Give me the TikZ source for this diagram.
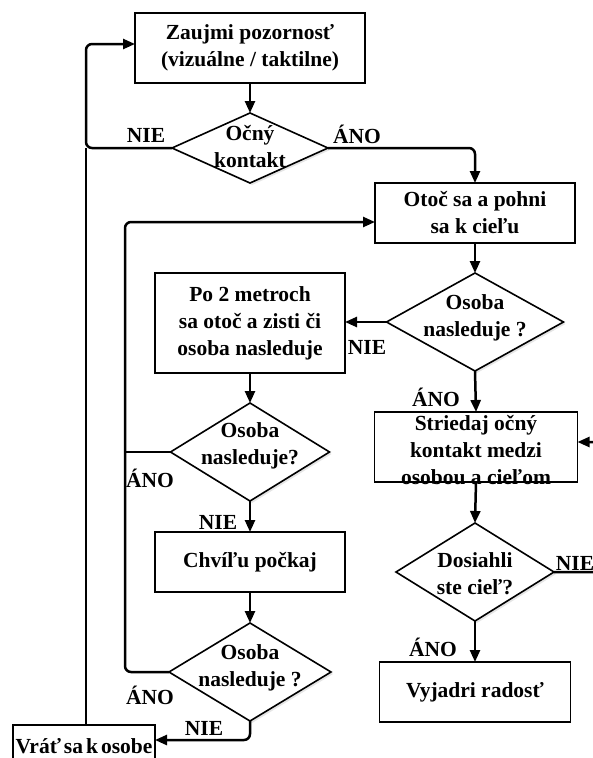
\documentclass[tikz,border=0pt]{standalone}
\usepackage{fontspec}
\setmainfont{Liberation Serif}
\usetikzlibrary{arrows.meta,shapes.geometric,shadows}
\begin{document}
\begin{tikzpicture}[x=1pt,y=-1pt,
  every node/.style={font=\fontsize{21.5}{27}\selectfont\bfseries},
  box/.style={draw, line width=1.6pt, rectangle, inner sep=0pt, outer sep=0pt, align=center},
  dia/.style={draw, line width=1.6pt, diamond, inner sep=0pt, outer sep=0pt, fill=white,
    drop shadow={opacity=0.2, shadow xshift=2pt, shadow yshift=-2pt}},
  txt/.style={align=center, inner sep=0pt},
  lbl/.style={inner sep=0pt},
  conn/.style={line width=2.5pt, rounded corners=6pt},
  arr/.style={conn, -{Triangle[length=12pt,width=10pt]}}
]
\clip (0,0) rectangle (593,758);
\fill[white] (0,0) rectangle (593,758);

% boxes and diamonds
\node[box, minimum width=230pt, minimum height=70pt] (b1) at (250,48) {Zaujmi pozornosť\\(vizuálne / taktilne)};
\node[dia, minimum width=156pt, minimum height=70pt] (d1) at (250,148) {};
\node[txt] (t1) at (250,147) {Očný\\kontakt};

\node[box, minimum width=200pt, minimum height=60pt] (b2) at (475,213) {Otoč sa a pohni\\sa k cieľu};
\node[dia, minimum width=177pt, minimum height=98pt] (d2) at (475,322) {};
\node[txt] (t2) at (475,318) {Osoba\\nasleduje ?};

\node[box, minimum width=190pt, minimum height=100pt] (b3) at (250,323) {Po 2 metroch\\sa otoč a zisti či\\osoba nasleduje};
\node[dia, minimum width=159pt, minimum height=98pt] (d3) at (250,452) {};
\node[txt] (t3) at (250,446) {Osoba\\nasleduje?};

\node[box, minimum width=190pt, minimum height=60pt] (b4) at (250,562) {Chvíľu počkaj};
\node[dia, minimum width=162pt, minimum height=98pt] (d4) at (250,672) {};
\node[txt] (t4) at (250,668) {Osoba\\nasleduje ?};

\node[box, minimum width=142pt, minimum height=42pt, anchor=north west] (b5) at (13,725) {Vráť\hspace{3pt}sa\hspace{3pt}k\hspace{3pt}osobe};

\node[box, minimum width=203pt, minimum height=70pt] (b6) at (476,447) {};
\node[txt] (t6) at (476,450) {Striedaj očný\\kontakt medzi\\osobou a cieľom};
\node[dia, minimum width=158pt, minimum height=98pt] (d5) at (475,572) {};
\node[txt] (t5) at (475,574) {Dosiahli\\ste cieľ?};
\node[box, minimum width=191pt, minimum height=60pt] (b7) at (475,692) {Vyjadri radosť};

% helper coordinates
\coordinate (L1) at (86,148);
\coordinate (L2) at (86,44);
\coordinate (R1) at (475,148);
\coordinate (L3) at (125,672);
\coordinate (L4) at (125,222);
\coordinate (B1) at (250,740);
\coordinate (R2) at (612,572);
\coordinate (R3) at (612,442);

% connectors
\draw[arr] (b1.south) -- (d1.north);
\draw[arr] (d1.west) -- (L1) -- (L2) -- (L2 -| b1.west);
\draw[conn] (b5.north -| L1) -- (L1);
\draw[arr] (d1.east) -- (R1) -- (b2.north);
\draw[arr] (b2.south) -- (d2.north);
\draw[arr] (d2.west) -- (d2.west -| b3.east);
\draw[arr] (b3.south) -- (d3.north);
\draw[arr] (d3.south) -- (b4.north);
\draw[arr] (b4.south) -- (d4.north);
\draw[arr] (d4.west) -- (L3) -- (L4) -- (L4 -| b2.west);
\draw[conn] (d3.west) -- (d3.west -| L3);
\draw[arr] (d4.south) -- (B1) -- (B1 -| b5.east);
\draw[arr] (d2.south) -- (b6.north);
\draw[arr] (b6.south) -- (d5.north);
\draw[arr] (d5.south) -- (b7.north);
\draw[arr] (d5.east) -- (R2) -- (R3) -- (R3 -| b6.east);

% labels
\node[lbl] (n1) at (146,135) {NIE};
\node[lbl] (a1) at (357,134) {ÁNO};
\node[lbl] (n2) at (367,347) {NIE};
\node[lbl] (a2) at (436,397) {ÁNO};
\node[lbl] (a3) at (150,478) {ÁNO};
\node[lbl] (n3) at (218,522) {NIE};
\node[lbl] (a4) at (150,695) {ÁNO};
\node[lbl] (n4) at (204,728) {NIE};
\node[lbl] (n5) at (575,563) {NIE};
\node[lbl] (a5) at (433,647) {ÁNO};
\end{tikzpicture}
\end{document}
